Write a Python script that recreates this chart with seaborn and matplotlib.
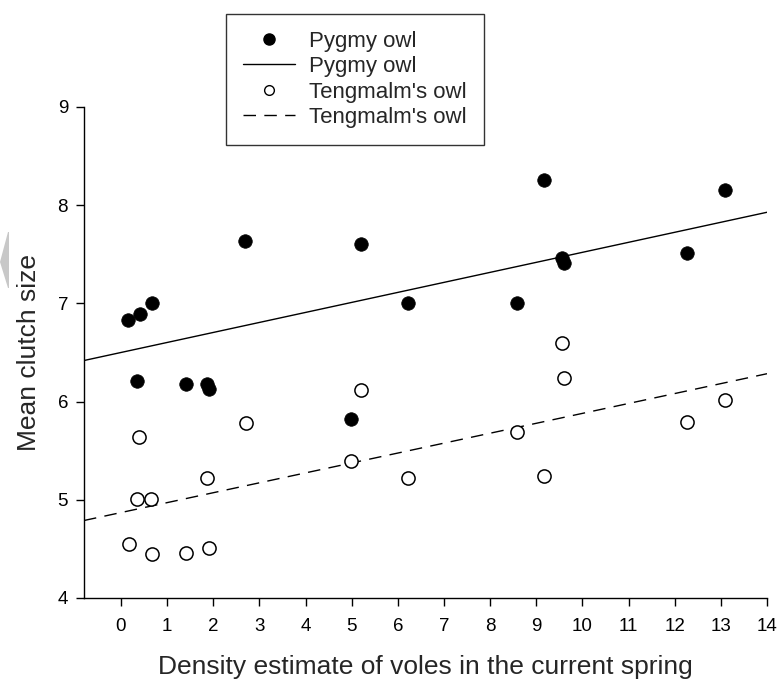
import matplotlib
matplotlib.use("Agg")
import matplotlib.pyplot as plt
from matplotlib.lines import Line2D
from matplotlib.patches import Polygon
import seaborn as sns
import numpy as np
import pandas as pd

sns.set_style("ticks")
plt.rcParams['font.family'] = ['Liberation Sans', 'DejaVu Sans']

# Data
pygmy_x = [0.15, 0.35, 0.41, 0.67, 1.41, 1.86, 1.90, 2.68, 4.98, 5.20, 6.23,
           8.59, 9.16, 9.55, 9.61, 12.27, 13.10]
pygmy_y = [6.83, 6.21, 6.89, 7.00, 6.18, 6.18, 6.13, 7.64, 5.82, 7.60, 7.00,
           7.00, 8.26, 7.46, 7.41, 7.51, 8.15]

teng_x = [0.17, 0.35, 0.39, 0.65, 0.67, 1.41, 1.86, 1.90, 2.70, 4.98, 5.20,
          6.23, 8.59, 9.16, 9.55, 9.61, 12.27, 13.10]
teng_y = [4.55, 5.01, 5.64, 5.01, 4.45, 4.46, 5.22, 4.51, 5.78, 5.40, 6.12,
          5.22, 5.69, 5.24, 6.60, 6.24, 5.79, 6.02]

# Fitted regression lines (intercept, slope)
pygmy_fit = (6.50, 0.102)
teng_fit = (4.87, 0.101)
fit_x_range = [-0.8, 14.0]

x_ticks = list(range(0, 15))
y_ticks = [4, 5, 6, 7, 8, 9]
legend_labels = ["Pygmy owl", "Pygmy owl", "Tengmalm's owl", "Tengmalm's owl"]

fig = plt.figure(figsize=(7.77, 6.87), dpi=100)
ax = fig.add_axes([84/777, 1-598/687, (767-84)/777, (598-107)/687])

fx = np.array(fit_x_range)
df_p = pd.DataFrame({"x": fx, "y": pygmy_fit[0] + pygmy_fit[1]*fx})
df_t = pd.DataFrame({"x": fx, "y": teng_fit[0] + teng_fit[1]*fx})
sns.lineplot(data=df_p, x="x", y="y", ax=ax, color="black", lw=1.0, legend=False)
sns.lineplot(data=df_t, x="x", y="y", ax=ax, color="black", lw=1.0, legend=False,
             linestyle=(0, (9, 6)))

sns.scatterplot(x=pygmy_x, y=pygmy_y, ax=ax, color="black", s=95, edgecolor="black",
                linewidth=0.5, zorder=3)
sns.scatterplot(x=teng_x, y=teng_y, ax=ax, color="white", s=90, edgecolor="black",
                linewidth=1.1, zorder=3)

ax.set_xlim(-0.8, 14.0)
ax.set_ylim(4, 9)
ax.set_xticks(x_ticks)
ax.set_yticks(y_ticks)
ax.tick_params(axis="both", direction="out", length=5.5, width=1, labelsize=13.5,
               color="black", labelcolor="black")
ax.tick_params(axis="y", pad=6)
ax.tick_params(axis="x", pad=9)
for sp in ["left", "bottom"]:
    ax.spines[sp].set_linewidth(1.0)
    ax.spines[sp].set_color("black")
sns.despine(ax=ax)

ax.set_xlabel("Density estimate of voles in the current spring", fontsize=19, labelpad=14)
ax.set_ylabel("Mean clutch size", fontsize=19, labelpad=12)

handles = [
    Line2D([], [], marker="o", color="black", linestyle="none", markersize=8),
    Line2D([], [], color="black", lw=1.0),
    Line2D([], [], marker="o", markerfacecolor="white", markeredgecolor="black",
           linestyle="none", markersize=7, markeredgewidth=1.0),
    Line2D([], [], color="black", lw=1.0, linestyle=(0, (9, 6))),
]
leg = fig.legend(handles, legend_labels, loc="upper left",
                 bbox_to_anchor=(226/777, 1-14/687), fontsize=16,
                 frameon=True, fancybox=False, edgecolor="black",
                 handlelength=2.35, handletextpad=0.65, labelspacing=0.2,
                 borderpad=0.75, borderaxespad=0)
leg.get_frame().set_linewidth(1.0)

# light gray scan artifact at the left edge
fig.patches.append(Polygon([[0/777, 1-262/687], [8/777, 1-232/687], [9/777, 1-232/687],
                            [9/777, 1-288/687], [8/777, 1-288/687]],
                           closed=True, transform=fig.transFigure,
                           facecolor="#c8c8c8", edgecolor="none"))

fig.savefig("out.png", dpi=100)
